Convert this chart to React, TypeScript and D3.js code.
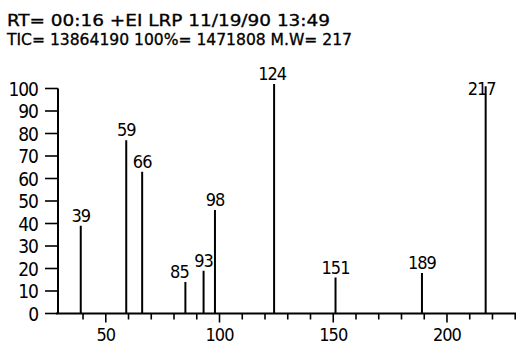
import React, { useEffect, useRef } from "react";
import * as d3 from "d3";

// mass spectrum peaks (m/z and relative intensity, %)
const masses = [39, 59, 66, 85, 93, 98, 124, 151, 189, 217];
const intensities = [39, 77, 63, 14, 19, 46, 102, 16, 18, 101];

const yTicks = [0, 10, 20, 30, 40, 50, 60, 70, 80, 90, 100];
const xMinorTicks = d3.range(40, 231, 10);
const xLabelTicks = [50, 100, 150, 200];

const headerLines = [
  "RT= 00:16 +EI LRP 11/19/90 13:49",
  "TIC= 13864190 100%= 1471808 M.W= 217",
];

const FONT = "'DejaVu Sans Condensed', 'DejaVu Sans', sans-serif";

const App = () => {
  const ref = useRef<SVGSVGElement>(null);

  useEffect(() => {
    const svg = d3.select(ref.current);
    svg.selectAll("*").remove();

    const x = d3.scaleLinear().domain([29, 231]).range([58, 517.5]);
    const y = d3.scaleLinear().domain([0, 100]).range([313.5, 88.5]);

    // header
    svg
      .selectAll(".hdr")
      .data(headerLines)
      .enter()
      .append("text")
      .attr("x", 7)
      .attr("y", (d, i) => 26 + i * 19)
      .attr("textLength", (d, i) => (i === 0 ? 323 : 345))
      .attr("lengthAdjust", "spacingAndGlyphs")
      .style("font-family", FONT)
      .style("font-size", "16px")
      .style("stroke", "black")
      .style("stroke-width", 0.3)
      .text((d) => d);

    // y axis
    svg
      .append("line")
      .attr("x1", 58)
      .attr("x2", 58)
      .attr("y1", y(100))
      .attr("y2", y(0))
      .attr("stroke", "black")
      .attr("stroke-width", 2);

    svg
      .selectAll(".ytick")
      .data(yTicks)
      .enter()
      .append("line")
      .attr("x1", 45)
      .attr("x2", 58)
      .attr("y1", (d) => y(d))
      .attr("y2", (d) => y(d))
      .attr("stroke", "black")
      .attr("stroke-width", 1.6);

    svg
      .selectAll(".ylab")
      .data(yTicks)
      .enter()
      .append("text")
      .attr("x", 38)
      .attr("y", (d) => y(d) + 7)
      .attr("text-anchor", "end")
      .style("font-family", FONT)
      .style("font-size", "19px")
      .style("letter-spacing", "-1px")
      .text((d) => d);

    // x axis
    svg
      .append("line")
      .attr("x1", 56)
      .attr("x2", 516)
      .attr("y1", y(0))
      .attr("y2", y(0))
      .attr("stroke", "black")
      .attr("stroke-width", 2);

    svg
      .selectAll(".xtick")
      .data(xMinorTicks)
      .enter()
      .append("line")
      .attr("x1", (d) => x(d))
      .attr("x2", (d) => x(d))
      .attr("y1", y(0))
      .attr("y2", (d) => y(0) + (d % 50 === 0 ? 9 : 6))
      .attr("stroke", "black")
      .attr("stroke-width", 1.6);

    svg
      .selectAll(".xlab")
      .data(xLabelTicks)
      .enter()
      .append("text")
      .attr("x", (d) => x(d))
      .attr("y", 341)
      .attr("text-anchor", "middle")
      .style("font-family", FONT)
      .style("font-size", "18px")
      .style("letter-spacing", "-1px")
      .text((d) => d);

    // peaks
    const peaks = masses.map((m, i) => ({ m, v: intensities[i] }));

    svg
      .selectAll(".bar")
      .data(peaks)
      .enter()
      .append("line")
      .attr("x1", (d) => x(d.m))
      .attr("x2", (d) => x(d.m))
      .attr("y1", y(0))
      .attr("y2", (d) => y(d.v))
      .attr("stroke", "black")
      .attr("stroke-width", 2);

    // the 217 label sits over its own bar in the original
    const nudge: Record<number, number> = { 85: -6, 124: -2, 217: -4 };
    svg
      .selectAll(".plab")
      .data(peaks)
      .enter()
      .append("text")
      .attr("x", (d) => x(d.m) + (nudge[d.m] || 0))
      .attr("y", (d) => (d.m === 217 ? y(d.v) + 9 : y(d.v) - 4))
      .attr("text-anchor", "middle")
      .style("font-family", FONT)
      .style("font-size", "18px")
      .style("letter-spacing", "-1px")
      .text((d) => d.m);
  }, []);

  return (
    <svg
      ref={ref}
      width={516}
      height={346}
      style={{ position: "absolute", left: 0, top: 0, background: "white" }}
    />
  );
};

export default App;
